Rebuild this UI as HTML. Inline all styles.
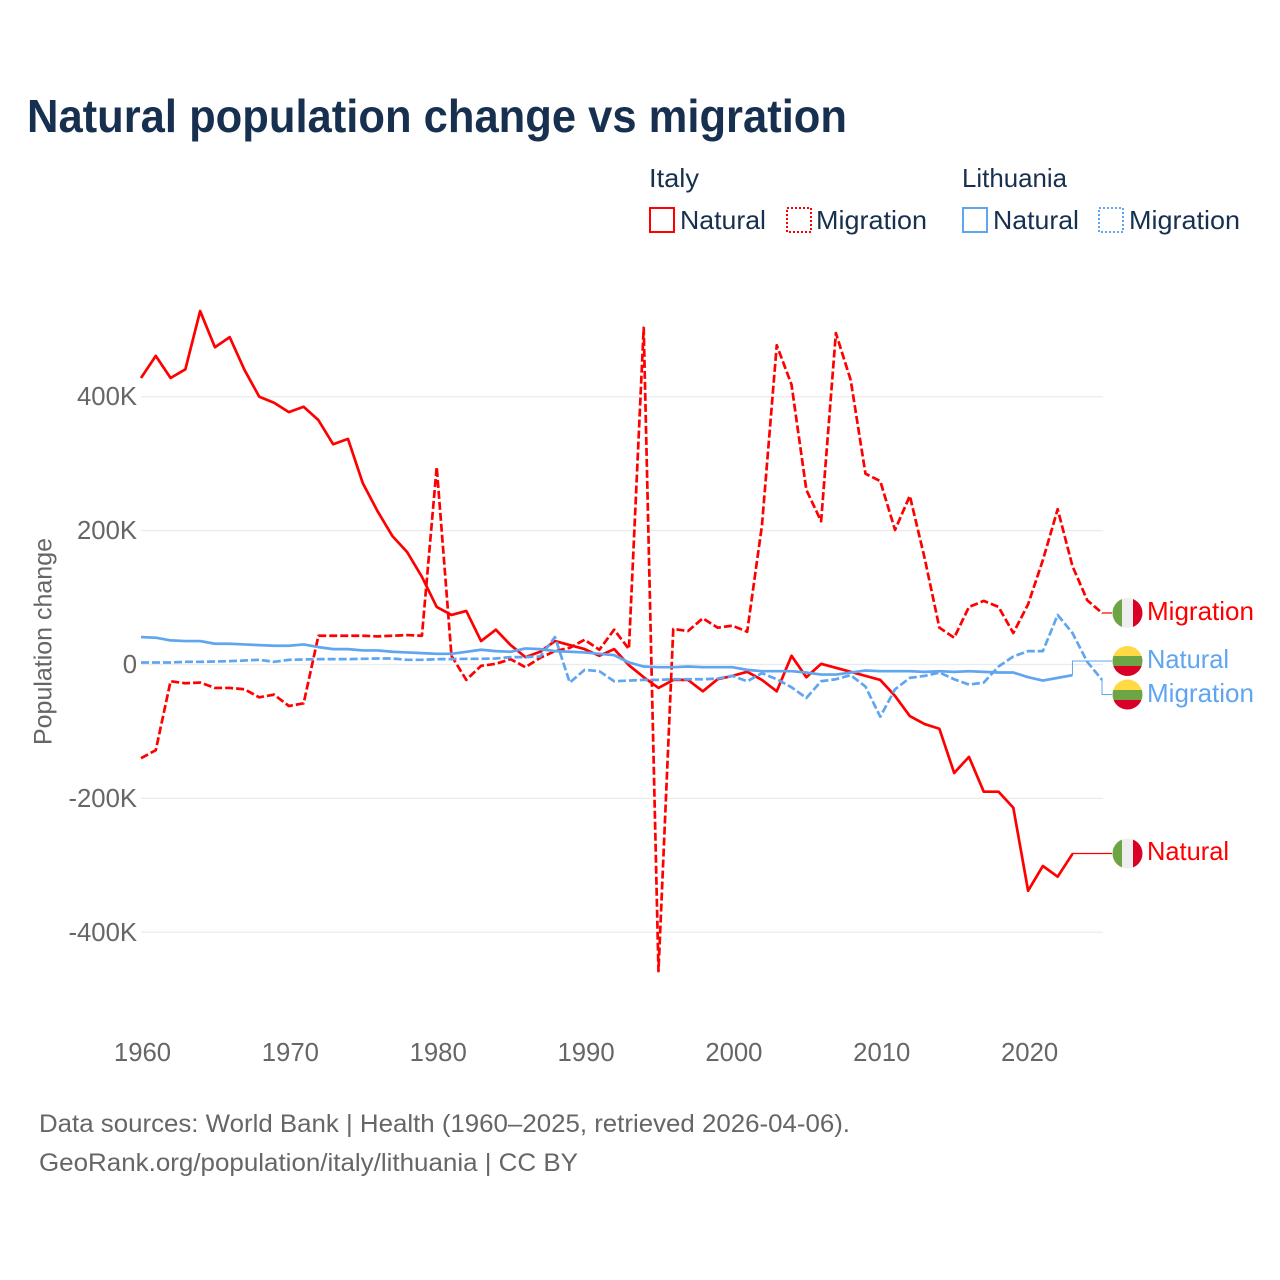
<!DOCTYPE html>
<html lang="en">
<head>
<meta charset="utf-8">
<title>Natural population change vs migration</title>
<style>
html,body{margin:0;padding:0;background:#fff;}
svg{display:block;font-family:"Liberation Sans",sans-serif;}
</style>
</head>
<body>
<svg id="chart" width="1280" height="1280" viewBox="0 0 1280 1280" xmlns="http://www.w3.org/2000/svg">
  <rect x="0" y="0" width="1280" height="1280" fill="#fff"/>
  <text x="27" y="132" font-size="46" font-weight="700" fill="#18304f" textLength="820" lengthAdjust="spacingAndGlyphs">Natural population change vs migration</text>

  <g font-size="26" fill="#18304f">
    <text x="649" y="187" textLength="50" lengthAdjust="spacingAndGlyphs">Italy</text>
    <text x="962" y="187" textLength="105" lengthAdjust="spacingAndGlyphs">Lithuania</text>
    <g>
      <rect x="650" y="208" width="24" height="24" fill="none" stroke="#ff0000" stroke-width="2"/>
      <text x="680" y="229" textLength="86" lengthAdjust="spacingAndGlyphs">Natural</text>
    </g>
    <g>
      <rect x="787" y="208" width="24" height="24" fill="none" stroke="#ff0000" stroke-width="2" stroke-dasharray="2 2"/>
      <text x="816" y="229" textLength="111" lengthAdjust="spacingAndGlyphs">Migration</text>
    </g>
    <g>
      <rect x="963" y="208" width="24" height="24" fill="none" stroke="#60a5f0" stroke-width="2"/>
      <text x="993" y="229" textLength="86" lengthAdjust="spacingAndGlyphs">Natural</text>
    </g>
    <g>
      <rect x="1099" y="208" width="24" height="24" fill="none" stroke="#60a5f0" stroke-width="2" stroke-dasharray="2 2"/>
      <text x="1129" y="229" textLength="111" lengthAdjust="spacingAndGlyphs">Migration</text>
    </g>
  </g>

  <g id="grid"></g>
  <g id="yticks" font-size="25.7" fill="#666" text-anchor="end"></g>
  <g id="xticks" font-size="25.7" fill="#666" text-anchor="middle"></g>
  <text transform="translate(51.5,641.5) rotate(-90)" font-size="25" fill="#666" text-anchor="middle" textLength="207" lengthAdjust="spacingAndGlyphs">Population change</text>

  <g id="connectors"></g>
  <g id="series"></g>

  <g>
    <clipPath id="c1"><circle cx="1127.5" cy="613" r="15"/></clipPath>
    <g clip-path="url(#c1)"><rect x="1112" y="597" width="10" height="32" fill="#6da544"/><rect x="1122" y="597" width="11" height="32" fill="#eeeeee"/><rect x="1133" y="597" width="10" height="32" fill="#d80027"/></g>
  </g>
  <g>
    <clipPath id="c2"><circle cx="1127.5" cy="661" r="15"/></clipPath>
    <g clip-path="url(#c2)"><rect x="1112" y="645" width="32" height="11" fill="#ffda44"/><rect x="1112" y="656" width="32" height="10" fill="#6da544"/><rect x="1112" y="666" width="32" height="11" fill="#d80027"/></g>
  </g>
  <g>
    <clipPath id="c3"><circle cx="1127.5" cy="694.5" r="15"/></clipPath>
    <g clip-path="url(#c3)"><rect x="1112" y="679" width="32" height="11" fill="#ffda44"/><rect x="1112" y="690" width="32" height="10" fill="#6da544"/><rect x="1112" y="700" width="32" height="11" fill="#d80027"/></g>
  </g>
  <g>
    <clipPath id="c4"><circle cx="1127.5" cy="853.5" r="15"/></clipPath>
    <g clip-path="url(#c4)"><rect x="1112" y="838" width="10" height="32" fill="#6da544"/><rect x="1122" y="838" width="11" height="32" fill="#eeeeee"/><rect x="1133" y="838" width="10" height="32" fill="#d80027"/></g>
  </g>

  <g font-size="26">
    <text x="1147" y="620" fill="#ff0000" textLength="107" lengthAdjust="spacingAndGlyphs">Migration</text>
    <text x="1147" y="668" fill="#60a5f0" textLength="82" lengthAdjust="spacingAndGlyphs">Natural</text>
    <text x="1147" y="702" fill="#60a5f0" textLength="107" lengthAdjust="spacingAndGlyphs">Migration</text>
    <text x="1147" y="860" fill="#ff0000" textLength="82" lengthAdjust="spacingAndGlyphs">Natural</text>
  </g>

  <g font-size="25" fill="#666">
    <text x="39" y="1132" textLength="811" lengthAdjust="spacingAndGlyphs">Data sources: World Bank | Health (1960–2025, retrieved 2026-04-06).</text>
    <text x="39" y="1171" textLength="539" lengthAdjust="spacingAndGlyphs">GeoRank.org/population/italy/lithuania | CC BY</text>
  </g>
</svg>
<script>
const startYear = 1960;
const xTickYears = [1960, 1970, 1980, 1990, 2000, 2010, 2020];
const yTickValues = [400, 200, 0, -200, -400];
const yTickLabels = ['400K', '200K', '0', '-200K', '-400K'];

const italyNatural = [428,461,428,441,528,474,489,440,400,391,377,385,365,329,337,271,229,192,168,131,86,74,80,35,52,29,11,19,35,29,23,13,23,-1,-19,-35,-23,-23,-40,-22,-17,-11,-23,-40,13,-19,1,-5,-11,-17,-23,-47,-77,-89,-96,-162,-138,-190,-190,-214,-338,-301,-317,-283];
const italyMigration = [-140,-128,-25,-28,-27,-35,-35,-37,-49,-45,-62,-58,43,43,43,43,42,43,44,43,295,13,-23,-2,1,8,-4,10,20,25,37,22,52,23,503,-458,53,50,69,55,58,49,208,477,418,261,214,495,425,285,274,201,252,159,55,40,86,95,86,47,90,156,232,147,96,77];
const lithuaniaNatural = [41,40,36,35,35,31,31,30,29,28,28,30,26,23,23,21,21,19,18,17,16,16,19,22,20,19,24,23,20,19,18,16,14,3,-3,-4,-4,-3,-4,-4,-4,-8,-10,-10,-10,-12,-15,-15,-12,-9,-10,-10,-10,-11,-10,-11,-10,-11,-12,-12,-19,-24,-20,-16];
const lithuaniaMigration = [3,3,3,4,4,4.5,5,6,7,4,7,7.5,8,8,8,8.5,9,9,7,7,8,8,8.5,8.5,9,11,11,12,41,-27,-8,-10,-25,-24,-23,-23,-22,-22,-22,-21,-17,-25,-13,-22,-34,-50,-25,-22,-16,-33,-78,-37,-20,-17,-12,-22,-30,-27,-3,12,20,20,74,47,4,-23];

const SVGNS = 'http://www.w3.org/2000/svg';
const RED = '#ff0000';
const BLUE = '#60a5f0';
function xScale(year) { return 141 + (year - startYear) * 14.785; }
function yScale(v) { return 664.5 - v * 0.6694; }
function make(tag, attrs, parent) {
  const el = document.createElementNS(SVGNS, tag);
  for (const k in attrs) el.setAttribute(k, attrs[k]);
  parent.appendChild(el);
  return el;
}
function linePath(values) {
  return values.map((v, i) => (i ? 'L' : 'M') + xScale(startYear + i).toFixed(2) + ' ' + yScale(v).toFixed(2)).join(' ');
}

const gridG = document.getElementById('grid');
const yG = document.getElementById('yticks');
yTickValues.forEach((v, i) => {
  const ln = make('line', { x1: 141, x2: 1103, y1: yScale(v), y2: yScale(v), stroke: '#ebebeb', 'stroke-width': 1.2 }, gridG);
  
  
  const t = make('text', { x: 137, y: yScale(v) + 8.5 }, yG);
  
  
  t.textContent = yTickLabels[i];
});

const xG = document.getElementById('xticks');
xTickYears.forEach(year => {
  const t = make('text', { x: xScale(year) + 1.5, y: 1061 }, xG);
  
  
  t.textContent = year;
});

const seriesG = document.getElementById('series');
const connG = document.getElementById('connectors');
function drawConnector(values, color, labelY, width, name) {
  const i = values.length - 1;
  const x0 = xScale(startYear + i);
  const y0 = yScale(values[i]);
  const d = 'M' + x0 + ' ' + y0 + ' V' + labelY + ' H1112';
  const c = make('path', { d: d, fill: 'none', stroke: color, 'stroke-width': width }, connG);
  
  
}
function drawSeries(values, color, dashed, name) {
  const attrs = { d: linePath(values), fill: 'none', stroke: color, 'stroke-width': 2.7, 'stroke-linejoin': 'round' };
  if (dashed) attrs['stroke-dasharray'] = '8 3';
  const p = make('path', attrs, seriesG);
  
  
}
drawConnector(italyNatural, RED, 853.5, 1.2, 'connector-italy-natural');
drawConnector(italyMigration, RED, 613, 1.2, 'connector-italy-migration');
drawConnector(lithuaniaNatural, BLUE, 661, 1, 'connector-lithuania-natural');
drawConnector(lithuaniaMigration, BLUE, 694.5, 1, 'connector-lithuania-migration');
drawSeries(italyNatural, RED, false, 'line-italy-natural');
drawSeries(italyMigration, RED, true, 'line-italy-migration');
drawSeries(lithuaniaMigration, BLUE, true, 'line-lithuania-migration');
drawSeries(lithuaniaNatural, BLUE, false, 'line-lithuania-natural');
</script>
</body>
</html>
